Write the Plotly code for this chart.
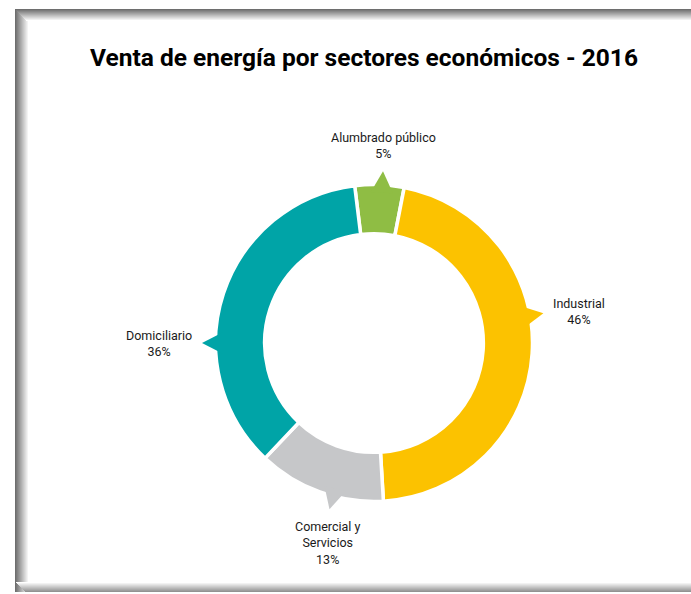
import math
import plotly.graph_objects as go

sectors = ["Alumbrado público", "Industrial", "Comercial y Servicios", "Domiciliario"]
label_lines = ["Alumbrado público", "Industrial", "Comercial y<br>Servicios", "Domiciliario"]
shares = [5, 46, 13, 36]
colors = ["#8FBD44", "#FCC200", "#C6C7C9", "#00A4A7"]

# where each callout arrow sits (degrees clockwise from 12 o'clock)
callout_angles = [3, 80, 195, 270]

W, H = 691, 594
cx, cy, R = 374, 343, 157


def px(x):
    return x / W


def py(y):
    return 1 - y / H


def polar(r, ang):
    a = math.radians(ang)
    return cx + r * math.sin(a), cy - r * math.cos(a)


fig = go.Figure()
Rd = R + 1.5  # slice outline eats into the visible radius
fig.add_trace(go.Pie(
    labels=sectors, values=shares, sort=False, direction="clockwise",
    rotation=-7, hole=0.69, textinfo="none", hoverinfo="label+percent",
    marker=dict(colors=colors, line=dict(color="white", width=3.5)),
    domain=dict(x=[px(cx - Rd), px(cx + Rd)], y=[py(cy + Rd), py(cy - Rd)]),
    showlegend=False,
))

shapes = []
# frame with soft grey edges
def band(x0, y0, x1, y1, c):
    shapes.append(dict(type="rect", xref="paper", yref="paper", layer="below",
                       x0=px(x0), x1=px(x1), y0=py(y0), y1=py(y1),
                       line=dict(width=0), fillcolor=c))

def grey(t):
    v = int(110 + (255 - 110) * t)
    return f"rgb({v},{v},{v})"

for i in range(14):
    band(15 + i, 9, 16 + i, 592, grey(i / 13))
for i in range(12):
    band(15 + i, 9 + i, W, 10 + i, grey(i / 11))
for i in range(10):
    band(15 + 10 - i, 591 - i, W, 592 - i, grey(0.25 + 0.75 * i / 9))
band(15, 9, 16, 592, grey(0))

annotations = []
for ang, txt, share, col in zip(callout_angles, label_lines, shares, colors):
    b1 = polar(R - 6, ang - 4.2)
    b2 = polar(R - 6, ang + 4.2)
    tip = polar(R + 15, ang)
    path = "M {},{} L {},{} L {},{} Z".format(
        px(b1[0]), py(b1[1]), px(tip[0]), py(tip[1]), px(b2[0]), py(b2[1]))
    shapes.append(dict(type="path", xref="paper", yref="paper", path=path,
                       fillcolor=col, line=dict(width=0), layer="above"))
    s, c = math.sin(math.radians(ang)), math.cos(math.radians(ang))
    lx, ly = polar(R + 23, ang)
    xa = "left" if s > 0.5 else ("right" if s < -0.5 else "center")
    ya = "bottom" if c > 0.5 else ("top" if c < -0.5 else "middle")
    annotations.append(dict(
        x=px(lx), y=py(ly), xref="paper", yref="paper", xanchor=xa, yanchor=ya,
        text=f"{txt}<br>{share}%", showarrow=False, align="center",
        font=dict(family="Roboto", size=12.5, color="#1a1a1a")))

fig.update_layout(
    width=W, height=H, margin=dict(l=0, r=0, t=0, b=0),
    paper_bgcolor="white", plot_bgcolor="white",
    title=dict(text="<b>Venta de energía por sectores económicos - 2016</b>",
               x=px(364), y=py(57), xanchor="center", yanchor="middle",
               font=dict(family="Roboto", size=24.5, color="black")),
    shapes=shapes, annotations=annotations,
)

fig.write_html("out.html", config={"displayModeBar": False},
               post_script="document.body.style.margin='0';")
